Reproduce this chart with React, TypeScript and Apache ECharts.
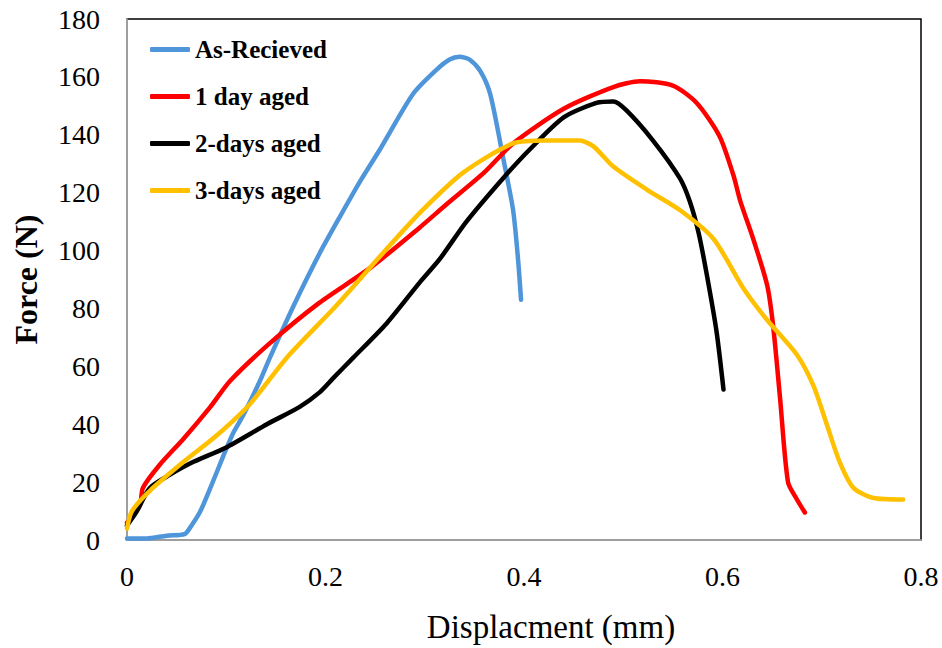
import React, { useEffect, useRef } from "react";
import * as echarts from "echarts";

const seriesNames = ["As-Recieved", "1 day aged", "2-days aged", "3-days aged"];
const seriesColors = ["#4E95D9", "#FF0000", "#000000", "#FFC000"];

const asReceived: number[][] = [
  [0, 0.5], [0.02, 0.5], [0.04, 1.5], [0.058, 2], [0.065, 5], [0.074, 10], [0.084, 18],
  [0.097, 29], [0.107, 37], [0.117, 43], [0.134, 55], [0.144, 63], [0.168, 81], [0.194, 99],
  [0.215, 112], [0.235, 124], [0.255, 135], [0.288, 154], [0.312, 162.5], [0.325, 166],
  [0.335, 167], [0.345, 166], [0.356, 162], [0.366, 154], [0.379, 132], [0.389, 114],
  [0.394, 97], [0.397, 83],
];

const oneDay: number[][] = [
  [0, 6], [0.013, 12], [0.016, 18], [0.033, 26], [0.057, 35], [0.084, 46], [0.104, 55],
  [0.144, 68], [0.194, 82], [0.245, 94], [0.295, 108], [0.322, 116], [0.36, 127], [0.389, 137],
  [0.44, 149], [0.49, 156.5], [0.517, 158.5], [0.55, 157], [0.574, 151], [0.597, 139.5],
  [0.611, 126], [0.618, 117], [0.631, 104], [0.645, 88], [0.651, 74], [0.658, 49],
  [0.666, 20], [0.675, 14], [0.683, 9.5],
];

const twoDays: number[][] = [
  [0, 5], [0.01, 10], [0.023, 18], [0.043, 22.5], [0.067, 27], [0.1, 32], [0.141, 40],
  [0.174, 46], [0.194, 51], [0.208, 56], [0.228, 63], [0.262, 75], [0.295, 89], [0.315, 97],
  [0.342, 110], [0.379, 125], [0.406, 135], [0.44, 146], [0.473, 151], [0.49, 151.5],
  [0.503, 148.5], [0.53, 138], [0.557, 125], [0.567, 117], [0.576, 106], [0.584, 92],
  [0.594, 72], [0.601, 52],
];

const threeDays: number[][] = [
  [0, 4], [0.005, 10], [0.023, 17], [0.057, 27], [0.09, 36], [0.124, 47], [0.161, 63],
  [0.211, 81], [0.255, 98], [0.295, 113], [0.339, 127], [0.389, 137], [0.423, 138],
  [0.456, 138], [0.47, 136], [0.49, 129], [0.524, 121], [0.557, 114], [0.591, 104],
  [0.621, 87], [0.645, 76], [0.675, 64], [0.692, 53], [0.705, 40], [0.718, 27], [0.732, 18],
  [0.752, 14.5], [0.782, 14],
];

const allData = [asReceived, oneDay, twoDays, threeDays];

const xTitle = "Displacment (mm)";
const yTitle = "Force (N)";

export default function App() {
  const ref = useRef<HTMLDivElement>(null);
  useEffect(() => {
    if (!ref.current) return;
    const chart = echarts.init(ref.current, undefined, { renderer: "svg" });
    const font = "Liberation Serif";
    chart.setOption({
      animation: false,
      backgroundColor: "#ffffff",
      grid: {
        left: 127,
        right: 21,
        top: 19,
        bottom: 106,
        show: true,
        borderColor: "#000000",
        borderWidth: 1.5,
        backgroundColor: "transparent",
      },
      legend: {
        orient: "vertical",
        left: 145,
        top: 32,
        itemWidth: 40,
        itemHeight: 5,
        itemGap: 22,
        icon: "roundRect",
        data: seriesNames,
        textStyle: {
          fontFamily: font,
          fontWeight: "bold",
          fontSize: 25,
          lineHeight: 25,
          color: "#000000",
        },
      },
      xAxis: {
        type: "value",
        min: 0,
        max: 0.8,
        interval: 0.2,
        name: xTitle,
        nameLocation: "middle",
        nameGap: 70,
        nameTextStyle: { fontFamily: font, fontSize: 33, color: "#000000", padding: [0, 0, 0, 54] },
        axisLine: { show: true, lineStyle: { color: "#BFBFBF", width: 1.5 } },
        axisTick: { show: false },
        splitLine: { show: false },
        axisLabel: {
          fontFamily: font,
          fontSize: 28,
          color: "#000000",
          margin: 22,
          formatter: (v: number) => (v === 0 ? "0" : v.toFixed(1)),
        },
      },
      yAxis: {
        type: "value",
        min: 0,
        max: 180,
        interval: 20,
        name: yTitle,
        nameLocation: "middle",
        nameGap: 85,
        nameTextStyle: { fontFamily: font, fontSize: 32, fontWeight: "bold", color: "#000000" },
        axisLine: { show: true, lineStyle: { color: "#BFBFBF", width: 1.5 } },
        axisTick: { show: false },
        splitLine: { show: false },
        axisLabel: {
          fontFamily: font,
          fontSize: 28,
          color: "#000000",
          margin: 27,
        },
      },
      series: allData.map((d, i) => ({
        name: seriesNames[i],
        type: "line",
        data: d,
        showSymbol: false,
        smooth: 0.25,
        lineStyle: { color: seriesColors[i], width: 4.5, cap: "round", join: "round" },
        itemStyle: { color: seriesColors[i] },
      })),
    });
    return () => chart.dispose();
  }, []);
  return <div ref={ref} style={{ width: 942, height: 648, position: "absolute", left: 0, top: 0 }} />;
}
